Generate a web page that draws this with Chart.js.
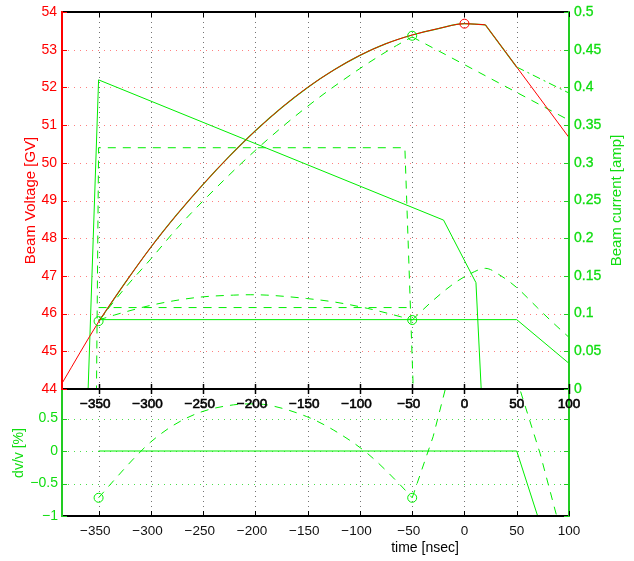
<!DOCTYPE html>
<html>
<head>
<meta charset="utf-8">
<script src="https://cdn.jsdelivr.net/npm/chart.js@4.4.0/dist/chart.umd.min.js"></script>
<style>
  html, body { margin:0; padding:0; background:#fff; }
  #wrap { position:relative; width:634px; height:561px; }
  #wrap canvas { position:absolute; left:0; top:0; }
</style>
</head>
<body>
<div id="wrap">
  <canvas id="cBot" width="634" height="561"></canvas>
  <canvas id="cTop" width="634" height="561"></canvas>
</div>
<script>
// ── axes ──
const T_MIN = -385, T_MAX = 100;
const TIME_TICKS = [-350,-300,-250,-200,-150,-100,-50,0,50,100];
const VOLT_TICKS = [44,45,46,47,48,49,50,51,52,53,54];
const AMP_TICKS  = [0,0.05,0.1,0.15,0.2,0.25,0.3,0.35,0.4,0.45,0.5];
const DV_TICKS   = [-1,-0.5,0,0.5];

// ── top panel : beam voltage [GV] ──
const redT     = [-385,-350,-325,-300,-275,-250,-225,-200,-175,-150,-125,-100,-75,-50,-25,0,20];
const redV     = [44.15,45.78,46.8,47.76,48.63,49.43,50.17,50.85,51.46,52.0,52.46,52.85,53.16,53.39,53.56,53.69,53.66];
const redTailT = [20,100];
const redTailV = [53.66,50.67];

const gSolT    = redT.slice(1);          // green solid runs on the red curve
const gSolV    = redV.slice(1);
const gSolTailT = [20,50];
const gSolTailV = [53.66,52.54];
const gDotDashT = [50,100];
const gDotDashV = [52.54,51.85];

const gDashT   = [-350,-325,-300,-275,-250,-200,-150,-100,-65,-50];
const gDashV   = [45.81,46.67,47.45,48.26,48.99,50.33,51.5,52.5,53.11,53.34];
const gDashTailT = [-50,100];
const gDashTailV = [53.34,51.13];

const lowArchT = [-350,-335,-313,-300,-278,-252,-221,-205,-189,-151,-125,-93,-61.5,-50];
const lowArchV = [45.83,45.96,46.13,46.22,46.34,46.44,46.49,46.5,46.49,46.40,46.31,46.14,45.92,45.83];
const lowTailT = [-50,-30,-10,5,20,35,50,70,85,100];
const lowTailV = [45.83,46.35,46.8,47.05,47.2,47.0,46.69,46.15,45.75,45.37];
const lowFlatDashT = [-350,-55];
const lowFlatDashV = [46.16,46.16];
const lowFlatSolT  = [-350,50,100];
const lowFlatSolV  = [45.84,45.84,44.68];

const redMarkT = [0],   redMarkV = [53.69];
const grnMarkT = [-350,-50,-50], grnMarkV = [45.8,53.37,45.83];

// ── top panel : beam current [amp] ──
const curSolT  = [-385,-360,-350,-20,11,16,100];
const curSolA  = [0,0,0.41,0.224,0.141,0,0];
const curDashT = [-385,-352,-350,-57,-49,100];
const curDashA = [0,0,0.32,0.32,0,0];

// ── bottom panel : dv/v [%] ──
const dvSolT   = [-350,50,100];
const dvSolV   = [0,0,-2.5];
const dvArchT  = [-350,-335,-313,-300,-278,-252,-221,-205,-189,-151,-125,-93,-61.5,-50];
const dvArchV  = [-0.72,-0.446,-0.06,0.14,0.4,0.6,0.71,0.725,0.71,0.53,0.32,-0.035,-0.52,-0.72];
const dvTailT  = [-50,-30,-18.5,0,18,35,53.2,72.3,88.2,100];
const dvTailV  = [-0.72,0.22,0.94,1.95,2.35,1.95,0.94,-0.035,-1.0,-1.7];
const dvMarkT  = [-350,-50], dvMarkV = [-0.72,-0.72];

// ── style ──
const FONT = "'Liberation Sans', Arial, Helvetica, sans-serif";
const RED = '#ff0000', GREEN = '#00ee00', GREEN_TXT = '#10dd10', GREEN_AX = '#22cc22';
const DASH = [8,7], DASHDOT = [8,4,2,4];

const pts = (xs, ys) => xs.map((x,i) => ({x, y: ys[i]}));
const xLabel = v => v < 0 ? '\u2212' + (-v) + '\u2002' : String(v);

function line(ds, color, opts){
  return Object.assign({ data: ds, borderColor: color, borderWidth: 1, pointRadius: 0,
    fill: false, tension: 0, yAxisID: 'y' }, opts || {});
}
function marks(ds, color, axis){
  return { data: ds, showLine: false, pointRadius: 4.5, pointBorderWidth: 1,
    pointBorderColor: color, pointBackgroundColor: 'rgba(0,0,0,0)', yAxisID: axis || 'y' };
}
function seg(ctx, x1, y1, x2, y2, color, w, dash){
  ctx.save();
  ctx.strokeStyle = color; ctx.lineWidth = w || 1; ctx.setLineDash(dash || []);
  ctx.beginPath(); ctx.moveTo(x1, y1); ctx.lineTo(x2, y2); ctx.stroke();
  ctx.restore();
}
function vtext(ctx, txt, x, y, color, size){
  ctx.save();
  ctx.translate(x, y); ctx.rotate(-Math.PI/2);
  ctx.font = size + 'px ' + FONT; ctx.fillStyle = color;
  ctx.textAlign = 'center'; ctx.textBaseline = 'alphabetic';
  ctx.fillText(txt, 0, 0);
  ctx.restore();
}
const fixTicks = list => axis => { axis.ticks = list.map(v => ({value: v})); };

// ── top panel frame ──
const topFrame = {
  id: 'topFrame',
  beforeDraw(c){
    const {ctx, chartArea: a} = c;
    ctx.save(); ctx.fillStyle = '#fff';
    ctx.fillRect(a.left, a.top, a.right - a.left, a.bottom - a.top);
    ctx.restore();
  },
  beforeDatasetsDraw(c){
    const {ctx, chartArea: a, scales} = c;
    TIME_TICKS.slice(0,-1).forEach(t => {
      const x = Math.round(scales.x.getPixelForValue(t)) + 0.5;
      seg(ctx, x, a.top, x, a.bottom, 'rgba(0,0,0,0.55)', 1, [1,4]);
    });
    VOLT_TICKS.slice(1,-1).forEach(v => {
      const y = Math.round(scales.y.getPixelForValue(v)) + 0.5;
      seg(ctx, a.left, y, a.right, y, 'rgba(255,0,0,0.5)', 1, [1,5]);
    });
  },
  afterDraw(c){
    const {ctx, chartArea: a, scales} = c;
    seg(ctx, a.left, a.top, a.right, a.top, '#000', 2);
    seg(ctx, a.left, a.bottom, a.right, a.bottom, '#000', 2);
    seg(ctx, a.left, a.top - 1, a.left, a.bottom + 1, RED, 2);
    seg(ctx, a.right, a.top - 1, a.right, a.bottom + 1, GREEN_AX, 2);
    TIME_TICKS.forEach(t => {
      const x = Math.round(scales.x.getPixelForValue(t)) + 0.5;
      seg(ctx, x, a.top, x, a.top + 5, '#000', 1);
      seg(ctx, x, a.bottom - 5, x, a.bottom + 5, '#000', 1.5);
    });
    VOLT_TICKS.forEach(v => {
      const y = Math.round(scales.y.getPixelForValue(v)) + 0.5;
      seg(ctx, a.left, y, a.left + 5, y, RED, 1);
    });
    AMP_TICKS.forEach(v => {
      const y = Math.round(scales.y2.getPixelForValue(v)) + 0.5;
      seg(ctx, a.right - 5, y, a.right, y, GREEN_AX, 1);
    });
    const mid = (a.top + a.bottom) / 2;
    vtext(ctx, 'Beam Voltage [GV]', 35, mid, RED, 15);
    vtext(ctx, 'Beam current [amp]', 621, mid, GREEN_TXT, 15);
  }
};

// ── bottom panel frame ──
const botFrame = {
  id: 'botFrame',
  beforeDatasetsDraw(c){
    const {ctx, chartArea: a, scales} = c;
    TIME_TICKS.slice(0,-1).forEach(t => {
      const x = Math.round(scales.x.getPixelForValue(t)) + 0.5;
      seg(ctx, x, a.top, x, a.bottom, 'rgba(0,0,0,0.55)', 1, [1,4]);
    });
    DV_TICKS.slice(1).forEach(v => {
      const y = Math.round(scales.y.getPixelForValue(v)) + 0.5;
      seg(ctx, a.left, y, a.right, y, 'rgba(0,210,0,0.7)', 1, [1,5]);
    });
  },
  afterDraw(c){
    const {ctx, chartArea: a, scales} = c;
    seg(ctx, a.left, a.bottom, a.right, a.bottom, '#000', 2);
    seg(ctx, a.left, a.top, a.left, a.bottom + 1, GREEN_AX, 2);
    seg(ctx, a.right, a.top, a.right, a.bottom + 1, GREEN_AX, 2);
    TIME_TICKS.forEach(t => {
      const x = Math.round(scales.x.getPixelForValue(t)) + 0.5;
      seg(ctx, x, a.bottom - 5, x, a.bottom, '#000', 1);
    });
    DV_TICKS.forEach(v => {
      const y = Math.round(scales.y.getPixelForValue(v)) + 0.5;
      seg(ctx, a.left, y, a.left + 5, y, GREEN_AX, 1);
      seg(ctx, a.right - 5, y, a.right, y, GREEN_AX, 1);
    });
    vtext(ctx, 'dv/v [%]', 23, 453, GREEN_TXT, 14);
    ctx.save();
    ctx.font = '14px ' + FONT; ctx.fillStyle = '#000';
    ctx.textAlign = 'center'; ctx.textBaseline = 'alphabetic';
    ctx.fillText('time [nsec]', 425, 552);
    ctx.restore();
  }
};

const xAxis = (height, color, stroke) => ({
  type: 'linear', position: 'bottom', min: T_MIN, max: T_MAX,
  afterBuildTicks: fixTicks(TIME_TICKS),
  afterFit: s => { s.height = height; },
  grid: { display: false, drawTicks: false }, border: { display: false },
  ticks: { autoSkip: false, maxRotation: 0, padding: 9, color,
    textStrokeColor: color, textStrokeWidth: stroke,
    font: { family: FONT, size: 13.5, lineHeight: 1 }, callback: xLabel }
});

const baseOpts = {
  responsive: false, animation: false, devicePixelRatio: 1, events: [],
  plugins: { legend: { display: false }, tooltip: { enabled: false } }
};

new Chart(document.getElementById('cTop'), {
  type: 'line',
  data: { datasets: [
    marks(pts(redMarkT, redMarkV), RED),
    marks(pts(grnMarkT, grnMarkV), GREEN),
    line(pts(redT, redV), RED, { cubicInterpolationMode: 'monotone' }),
    line(pts(redTailT, redTailV), RED),
    line(pts(gSolT, gSolV), GREEN, { borderWidth: 1.2, cubicInterpolationMode: 'monotone' }),
    line(pts(gSolTailT, gSolTailV), GREEN, { borderWidth: 1.2 }),
    line(pts(gDotDashT, gDotDashV), GREEN, { borderDash: DASHDOT }),
    line(pts(gDashT, gDashV), GREEN, { borderDash: DASH, cubicInterpolationMode: 'monotone' }),
    line(pts(gDashTailT, gDashTailV), GREEN, { borderDash: DASH }),
    line(pts(lowArchT, lowArchV), GREEN, { borderDash: DASH, cubicInterpolationMode: 'monotone' }),
    line(pts(lowTailT, lowTailV), GREEN, { borderDash: DASH, cubicInterpolationMode: 'monotone' }),
    line(pts(lowFlatDashT, lowFlatDashV), GREEN, { borderDash: DASH }),
    line(pts(lowFlatSolT, lowFlatSolV), GREEN),
    line(pts(curSolT, curSolA), GREEN, { yAxisID: 'y2' }),
    line(pts(curDashT, curDashA), GREEN, { yAxisID: 'y2', borderDash: DASH })
  ]},
  options: Object.assign({}, baseOpts, {
    layout: { padding: { top: 8, left: 0, right: 0, bottom: 0 } },
    scales: {
      x: xAxis(172, '#000', 0.6),
      y: {
        type: 'linear', position: 'left', min: 44, max: 54,
        afterBuildTicks: fixTicks(VOLT_TICKS),
        afterFit: s => { s.width = 62; },
        grid: { display: false, drawTicks: false }, border: { display: false },
        ticks: { padding: 5, color: RED, font: { family: FONT, size: 14, lineHeight: 1 } }
      },
      y2: {
        type: 'linear', position: 'right', min: 0, max: 0.5,
        afterBuildTicks: fixTicks(AMP_TICKS),
        afterFit: s => { s.width = 65; },
        grid: { display: false, drawTicks: false }, border: { display: false },
        ticks: { padding: 5, color: GREEN_TXT, textStrokeColor: GREEN_TXT, textStrokeWidth: 0.3,
          font: { family: FONT, size: 14, lineHeight: 1 }, callback: v => String(+v.toFixed(2)) }
      }
    }
  }),
  plugins: [topFrame]
});

new Chart(document.getElementById('cBot'), {
  type: 'line',
  data: { datasets: [
    marks(pts(dvMarkT, dvMarkV), GREEN),
    line(pts(dvSolT, dvSolV), GREEN),
    line(pts(dvArchT, dvArchV), GREEN, { borderDash: DASH, cubicInterpolationMode: 'monotone' }),
    line(pts(dvTailT, dvTailV), GREEN, { borderDash: DASH })
  ]},
  options: Object.assign({}, baseOpts, {
    layout: { padding: { top: 386, left: 0, right: 65, bottom: 0 } },
    scales: {
      x: xAxis(45, '#111', 0),
      y: {
        type: 'linear', position: 'left', min: -1, max: 1,
        afterBuildTicks: fixTicks(DV_TICKS),
        afterFit: s => { s.width = 62; },
        grid: { display: false, drawTicks: false }, border: { display: false },
        ticks: { padding: 4, color: GREEN_TXT, font: { family: FONT, size: 14, lineHeight: 1 },
          callback: v => v < 0 ? '\u2212' + (-v) : String(v) }
      }
    }
  }),
  plugins: [botFrame]
});
</script>
</body>
</html>
